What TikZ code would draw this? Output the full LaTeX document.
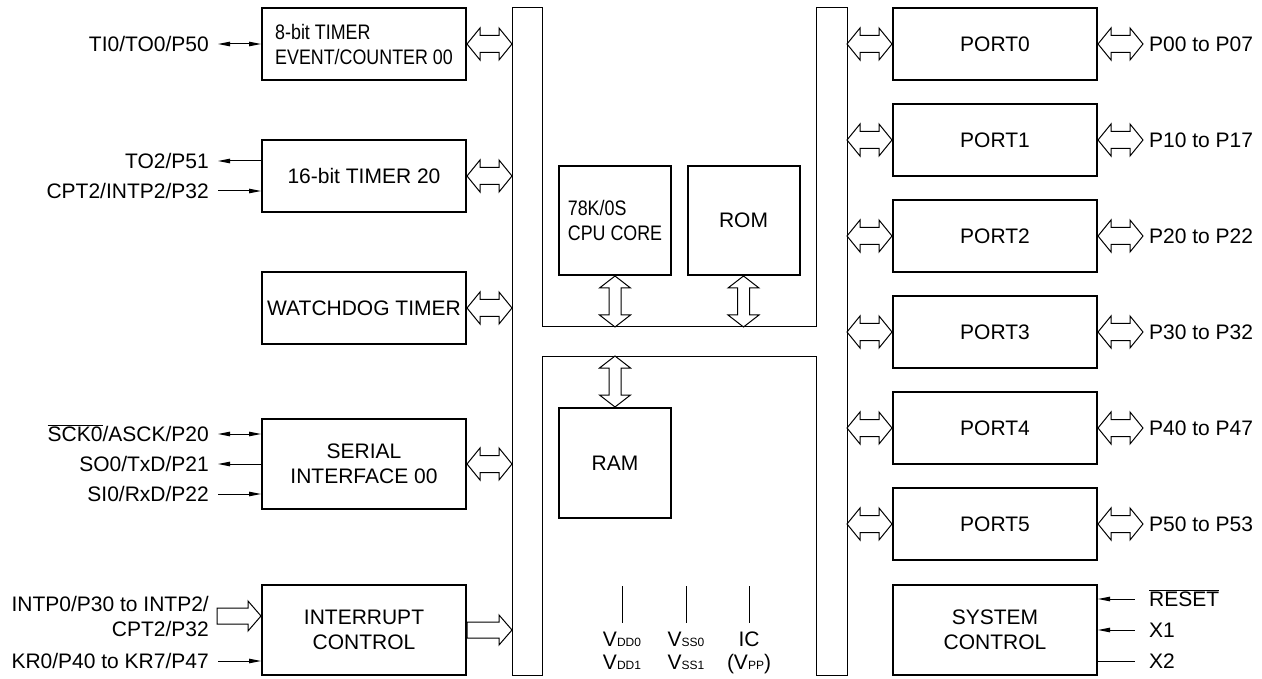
\documentclass[tikz,border=0pt]{standalone}
\usepackage{fontspec}
\setmainfont{Liberation Sans}
\newfontfamily\narrowfont[FakeStretch=0.85]{Liberation Sans}
\usepackage{tikz}
\usetikzlibrary{arrows.meta,calc,positioning}

\newcommand{\bigtxt}{\fontsize{21}{25}\selectfont}
\newcommand{\lowtxt}[1]{{\fontsize{12}{12}\selectfont #1}}
\newcommand{\barred}[1]{$\overline{\hbox{#1}}$}

% hollow bus arrows
\newcommand{\hbusarrow}[2]{%
  \draw[hollow] let \p1=(#1), \p2=(#2) in
    (\x1,\y1) -- (\x1+13pt,\y1+16pt) -- (\x1+13pt,\y1+8.5pt) -- (\x2-13pt,\y1+8.5pt)
    -- (\x2-13pt,\y1+16pt) -- (\x2,\y1) -- (\x2-13pt,\y1-16pt) -- (\x2-13pt,\y1-8.5pt)
    -- (\x1+13pt,\y1-8.5pt) -- (\x1+13pt,\y1-16pt) -- cycle;}
\newcommand{\hsinglearrow}[2]{%
  \draw[hollow] let \p1=(#1), \p2=(#2) in
    (\x1,\y1+8pt) -- (\x2-13pt,\y1+8pt) -- (\x2-13pt,\y1+15pt) -- (\x2,\y1)
    -- (\x2-13pt,\y1-15pt) -- (\x2-13pt,\y1-8pt) -- (\x1,\y1-8pt) -- cycle;}
\newcommand{\vbusarrow}[2]{%
  \draw[hollow] let \p1=(#1), \p2=(#2) in
    (\x1,\y1) -- (\x1+15.5pt,\y1-12pt) -- (\x1+6pt,\y1-12pt) -- (\x1+6pt,\y2+12pt)
    -- (\x1+15.5pt,\y2+12pt) -- (\x1,\y2) -- (\x1-15.5pt,\y2+12pt) -- (\x1-6pt,\y2+12pt)
    -- (\x1-6pt,\y1-12pt) -- (\x1-15.5pt,\y1-12pt) -- cycle;}

\tikzset{
  blk/.style={draw, line width=2pt, minimum width=204pt, minimum height=72pt, inner sep=0pt, align=center},
  core/.style={draw, line width=2pt, minimum width=112pt, minimum height=109pt, inner sep=0pt, align=center},
  lbl/.style={inner sep=0pt, text height=15pt, text depth=0pt},
  pwr/.style={inner sep=0pt, anchor=north, align=center, font=\fontsize{21}{23}\selectfont},
  sig/.style={line width=1pt, >={Triangle[length=12pt,width=4.5pt]}},
  hollow/.style={line width=1pt, fill=white},
  busline/.style={line width=1pt}
}

\begin{document}
\begin{tikzpicture}[x=1pt, y=-1pt, font=\bigtxt]
    \useasboundingbox (0,0) rectangle (1262,679);

    % Internal bus
    \draw[busline] (512,8) -- (542,8) -- (542,327) -- (816,327) -- (816,8) -- (847,8)
        -- (847,675) -- (816,675) -- (816,356) -- (542,356) -- (542,675) -- (512,675) -- cycle;
    \coordinate (lbus) at (512,0);
    \coordinate (rbus) at (847,0);
    \coordinate (cbusT) at (0,327);
    \coordinate (cbusB) at (0,356);

    % Peripherals
    \node[blk, align=left, font=\narrowfont\bigtxt] (t00) at (364,44) {8-bit TIMER\\EVENT/COUNTER 00};
    \node[blk] (t20) at (364,176) {16-bit TIMER 20};
    \node[blk] (wdt) at (364,308) {WATCHDOG TIMER};
    \node[blk, minimum height=90pt] (sio) at (364,464) {SERIAL\\INTERFACE 00};
    \node[blk, minimum height=90pt] (intc) at (364,630) {INTERRUPT\\CONTROL};

    \hbusarrow{t00.east}{t00.east -| lbus}
    \hbusarrow{t20.east}{t20.east -| lbus}
    \hbusarrow{wdt.east}{wdt.east -| lbus}
    \hbusarrow{sio.east}{sio.east -| lbus}
    \hsinglearrow{intc.east}{intc.east -| lbus}

    % Pins, left
    \node[lbl, anchor=east] (ti0) at (209,44) {TI0/TO0/P50};
    \node[lbl, anchor=east] (to2) at (209,161) {TO2/P51};
    \node[lbl, anchor=east] (cpt2) at (209,191) {CPT2/INTP2/P32};
    \node[lbl, anchor=east] (sck) at (209,434) {\barred{SCK0}/ASCK/P20};
    \node[lbl, anchor=east] (so0) at (209,464) {SO0/TxD/P21};
    \node[lbl, anchor=east] (si0) at (209,494) {SI0/RxD/P22};
    \node[inner sep=0pt, anchor=east, align=right] (intp) at (209,616) {INTP0/P30 to INTP2/\\CPT2/P32};
    \node[lbl, anchor=east] (kr0) at (209,661) {KR0/P40 to KR7/P47};

    \draw[sig, <->] ([xshift=9pt]ti0.east) -- (ti0.east -| t00.west);
    \draw[sig, <-] ([xshift=9pt]to2.east) -- (to2.east -| t20.west);
    \draw[sig, ->] ([xshift=9pt]cpt2.east) -- (cpt2.east -| t20.west);
    \draw[sig, <->] ([xshift=9pt]sck.east) -- (sck.east -| sio.west);
    \draw[sig, <-] ([xshift=9pt]so0.east) -- (so0.east -| sio.west);
    \draw[sig, ->] ([xshift=9pt]si0.east) -- (si0.east -| sio.west);
    \hsinglearrow{[xshift=8pt]intp.east}{intp.east -| intc.west}
    \draw[sig, ->] ([xshift=9pt]kr0.east) -- (kr0.east -| intc.west);

    % CPU, ROM, RAM
    \node[core, align=left, font=\narrowfont\bigtxt] (cpu) at (615,220.5) {78K/0S\\CPU CORE};
    \node[core] (rom) at (743.5,220.5) {ROM};
    \node[core, minimum height=110pt] (ram) at (615,463) {RAM};
    \vbusarrow{cpu.south}{cpu.south |- cbusT}
    \vbusarrow{rom.south}{rom.south |- cbusT}
    \vbusarrow{ram.north |- cbusB}{ram.north}

    % Supply pins
    \node[pwr] (vdd) at (622,632) {V\lowtxt{DD0}\\V\lowtxt{DD1}};
    \node[pwr] (vss) at (686,632) {V\lowtxt{SS0}\\V\lowtxt{SS1}};
    \node[pwr] (ic) at (749,632) {IC\\(V\lowtxt{PP})};
    \coordinate (vddtop) at (622,586);
    \coordinate (vsstop) at (686,586);
    \coordinate (ictop) at (749,586);
    \draw[busline] (vddtop) -- ([yshift=9pt]vdd.north);
    \draw[busline] (vsstop) -- ([yshift=9pt]vss.north);
    \draw[busline] (ictop) -- ([yshift=9pt]ic.north);

    % Ports
    \foreach \i/\pins in {0/P00 to P07,1/P10 to P17,2/P20 to P22,3/P30 to P32,4/P40 to P47,5/P50 to P53} {
        \node[blk] (port\i) at (995,44+96*\i) {PORT\i};
        \node[lbl, anchor=west] (pins\i) at (1149,44+96*\i) {\pins};
        \hbusarrow{port\i.west -| rbus}{port\i.west}
        \hbusarrow{port\i.east}{$(pins\i.west)+(-6pt,0)$}
    }

    % System control
    \node[blk, minimum height=90pt] (sys) at (995,630) {SYSTEM\\CONTROL};
    \node[lbl, anchor=west] (rst) at (1149,599) {\barred{RESET}};
    \node[lbl, anchor=west] (xa) at (1149,630) {X1};
    \node[lbl, anchor=west] (xb) at (1149,661) {X2};
    \draw[sig, <-] (rst.west -| sys.east) -- ([xshift=-14pt]rst.west);
    \draw[sig, <-] (xa.west -| sys.east) -- ([xshift=-14pt]xa.west);
    \draw[sig] (xb.west -| sys.east) -- ([xshift=-14pt]xb.west);

\end{tikzpicture}
\end{document}
